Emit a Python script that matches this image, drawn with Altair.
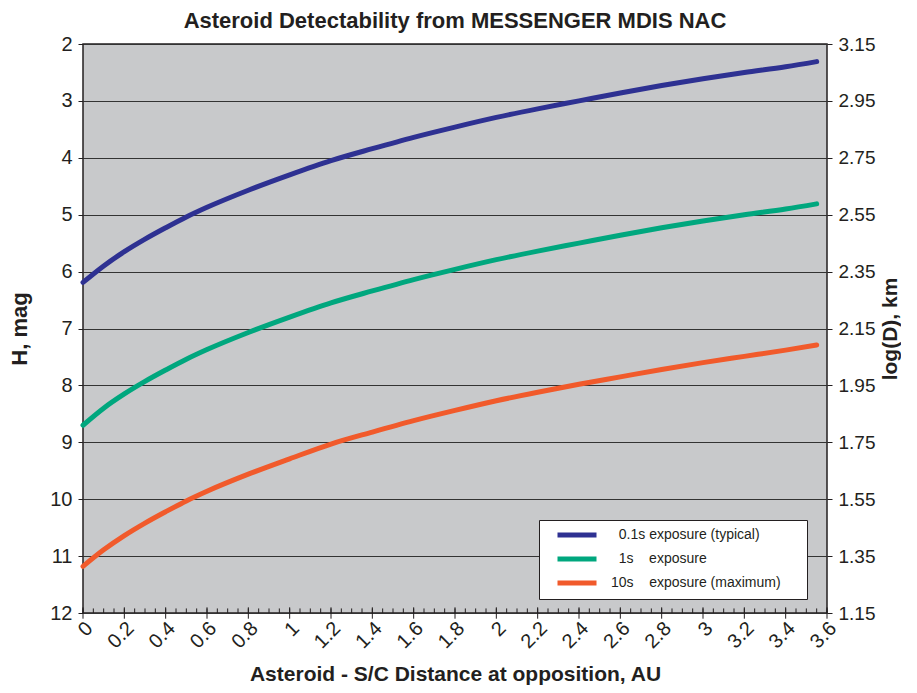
import altair as alt
import pandas as pd

# ---- data ----
distance_au = [0, 0.1, 0.2, 0.3, 0.4, 0.5, 0.6, 0.8, 1.0, 1.2, 1.4, 1.6, 1.8,
               2.0, 2.2, 2.4, 2.6, 2.8, 3.0, 3.2, 3.4, 3.55]
h_01s = [6.19, 5.90, 5.65, 5.43, 5.23, 5.04, 4.87, 4.57, 4.30, 4.05, 3.84, 3.64,
         3.46, 3.29, 3.14, 3.00, 2.86, 2.73, 2.61, 2.50, 2.40, 2.31]
h_1s = [8.70, 8.40, 8.15, 7.93, 7.73, 7.54, 7.37, 7.07, 6.80, 6.55, 6.34, 6.14,
        5.96, 5.79, 5.64, 5.50, 5.36, 5.23, 5.11, 5.00, 4.90, 4.81]
h_10s = [11.18, 10.89, 10.64, 10.42, 10.22, 10.03, 9.86, 9.56, 9.29, 9.03, 8.82,
         8.62, 8.44, 8.27, 8.12, 7.98, 7.85, 7.72, 7.60, 7.49, 7.38, 7.29]

NB = "\u00a0"
ZW = "\u200b"
series_labels = [
    ZW + NB * 2 + "0.1s exposure (typical)",
    ZW + NB * 2 + "1s" + NB * 4 + "exposure",
    "10s" + NB * 4 + "exposure (maximum)" + NB * 5 + ZW,
]
series_colors = ["#2e3192", "#00a77e", "#f15a2b"]

x_ticks = [0, 0.2, 0.4, 0.6, 0.8, 1, 1.2, 1.4, 1.6, 1.8, 2, 2.2, 2.4, 2.6, 2.8,
           3, 3.2, 3.4, 3.6]
x_minor_ticks = [round(i * 0.05, 2) for i in range(73)]
h_ticks = [2, 3, 4, 5, 6, 7, 8, 9, 10, 11, 12]
logd_ticks = [3.15, 2.95, 2.75, 2.55, 2.35, 2.15, 1.95, 1.75, 1.55, 1.35, 1.15]

# ---- tables ----
rows = []
for label, values in zip(series_labels, [h_01s, h_1s, h_10s]):
    for d, h in zip(distance_au, values):
        rows.append({"d": d, "H": h, "series": label})
df = pd.DataFrame(rows)
minor_df = pd.DataFrame({"d": x_minor_ticks})
major_df = pd.DataFrame({"d": x_ticks})

FONT = "Liberation Sans"
TXT = "#231f20"
X_TITLE = "Asteroid - S/C Distance at opposition, AU"

x_scale = alt.Scale(domain=[0, 3.6], nice=False, zero=False)
h_scale = alt.Scale(domain=[2, 12], reverse=True, nice=False, zero=False)

x_axis = alt.Axis(
    values=x_ticks, format="~g", title=X_TITLE, labelAngle=315,
    labelAlign="right", labelBaseline="middle", labelPadding=12, labelOffset=6,
    ticks=False, domain=False, grid=False, labelFontSize=20, labelFont=FONT,
    labelColor=TXT, titleFont=FONT, titleFontSize=21, titleFontWeight="bold",
    titleColor=TXT, titlePadding=12,
)
h_axis = alt.Axis(
    values=h_ticks, format="d", title="H, mag", orient="left", tickSize=5,
    tickColor="#231f20", tickWidth=1, labelPadding=6, labelFontSize=20,
    labelFont=FONT, labelColor=TXT, grid=True, gridColor="#333333",
    gridWidth=1, domain=False, titleFont=FONT, titleFontSize=22,
    titleFontWeight="bold", titleColor=TXT, titlePadding=18,
)

lines = alt.Chart(df).mark_line(strokeWidth=5, interpolate="monotone",
                                strokeCap="round").encode(
    x=alt.X("d:Q", scale=x_scale, axis=x_axis),
    y=alt.Y("H:Q", scale=h_scale, axis=h_axis),
    color=alt.Color(
        "series:N",
        scale=alt.Scale(domain=series_labels, range=series_colors),
        sort=series_labels,
        legend=alt.Legend(
            title=None, orient="none", legendX=456, legendY=476,
            fillColor="white", strokeColor="#231f20", padding=6,
            symbolType="M-3,0H3", symbolSize=169, symbolStrokeWidth=5,
            symbolOffset=23, labelOffset=25, labelFontSize=14, labelFont=FONT,
            labelColor=TXT, rowPadding=4, labelLimit=400,
        ),
    ),
)

minor = alt.Chart(minor_df).mark_rule(color="#231f20", strokeWidth=1).encode(
    x=alt.X("d:Q", scale=x_scale, title=X_TITLE),
    y=alt.Y(datum=11.92, scale=h_scale, title="H, mag"),
    y2=alt.Y2(datum=12),
)
major = alt.Chart(major_df).mark_rule(color="#231f20", strokeWidth=1).encode(
    x=alt.X("d:Q", scale=x_scale, title=X_TITLE),
    y=alt.Y(datum=11.9, scale=h_scale, title="H, mag"),
    y2=alt.Y2(datum=12.1),
)

right = alt.Chart(df).transform_calculate(
    logD="3.15 - 0.2 * (datum.H - 2)"
).mark_line(opacity=0).encode(
    x=alt.X("d:Q", scale=x_scale, title=X_TITLE),
    y=alt.Y(
        "logD:Q",
        scale=alt.Scale(domain=[1.15, 3.15], nice=False, zero=False),
        axis=alt.Axis(
            values=logd_ticks, format=".2f", orient="right", title="log(D), km",
            tickSize=5, tickColor="#231f20", labelPadding=6, labelFontSize=19,
            labelFont=FONT, labelColor=TXT, grid=False, domain=False,
            titleFont=FONT, titleFontSize=21, titleFontWeight="bold",
            titleColor=TXT, titleAngle=270, titleBaseline="top",
            titlePadding=5,
        ),
    ),
    detail="series:N",
)

chart = alt.layer(
    alt.layer(lines, minor, major),
    right,
).resolve_scale(y="independent").properties(
    width=744,
    height=569,
    padding={"left": 0, "top": 2, "right": 0, "bottom": 0},
    title=alt.TitleParams(
        "Asteroid Detectability from MESSENGER MDIS NAC", font=FONT,
        fontSize=22, fontWeight="bold", color=TXT, offset=1, anchor="middle",
    ),
).configure(
    background="white",
    view=alt.ViewConfig(fill="#c8c9cb", stroke="#231f20", strokeWidth=1.5),
)

chart.save("out.html", embed_options={"renderer": "svg", "actions": False})
